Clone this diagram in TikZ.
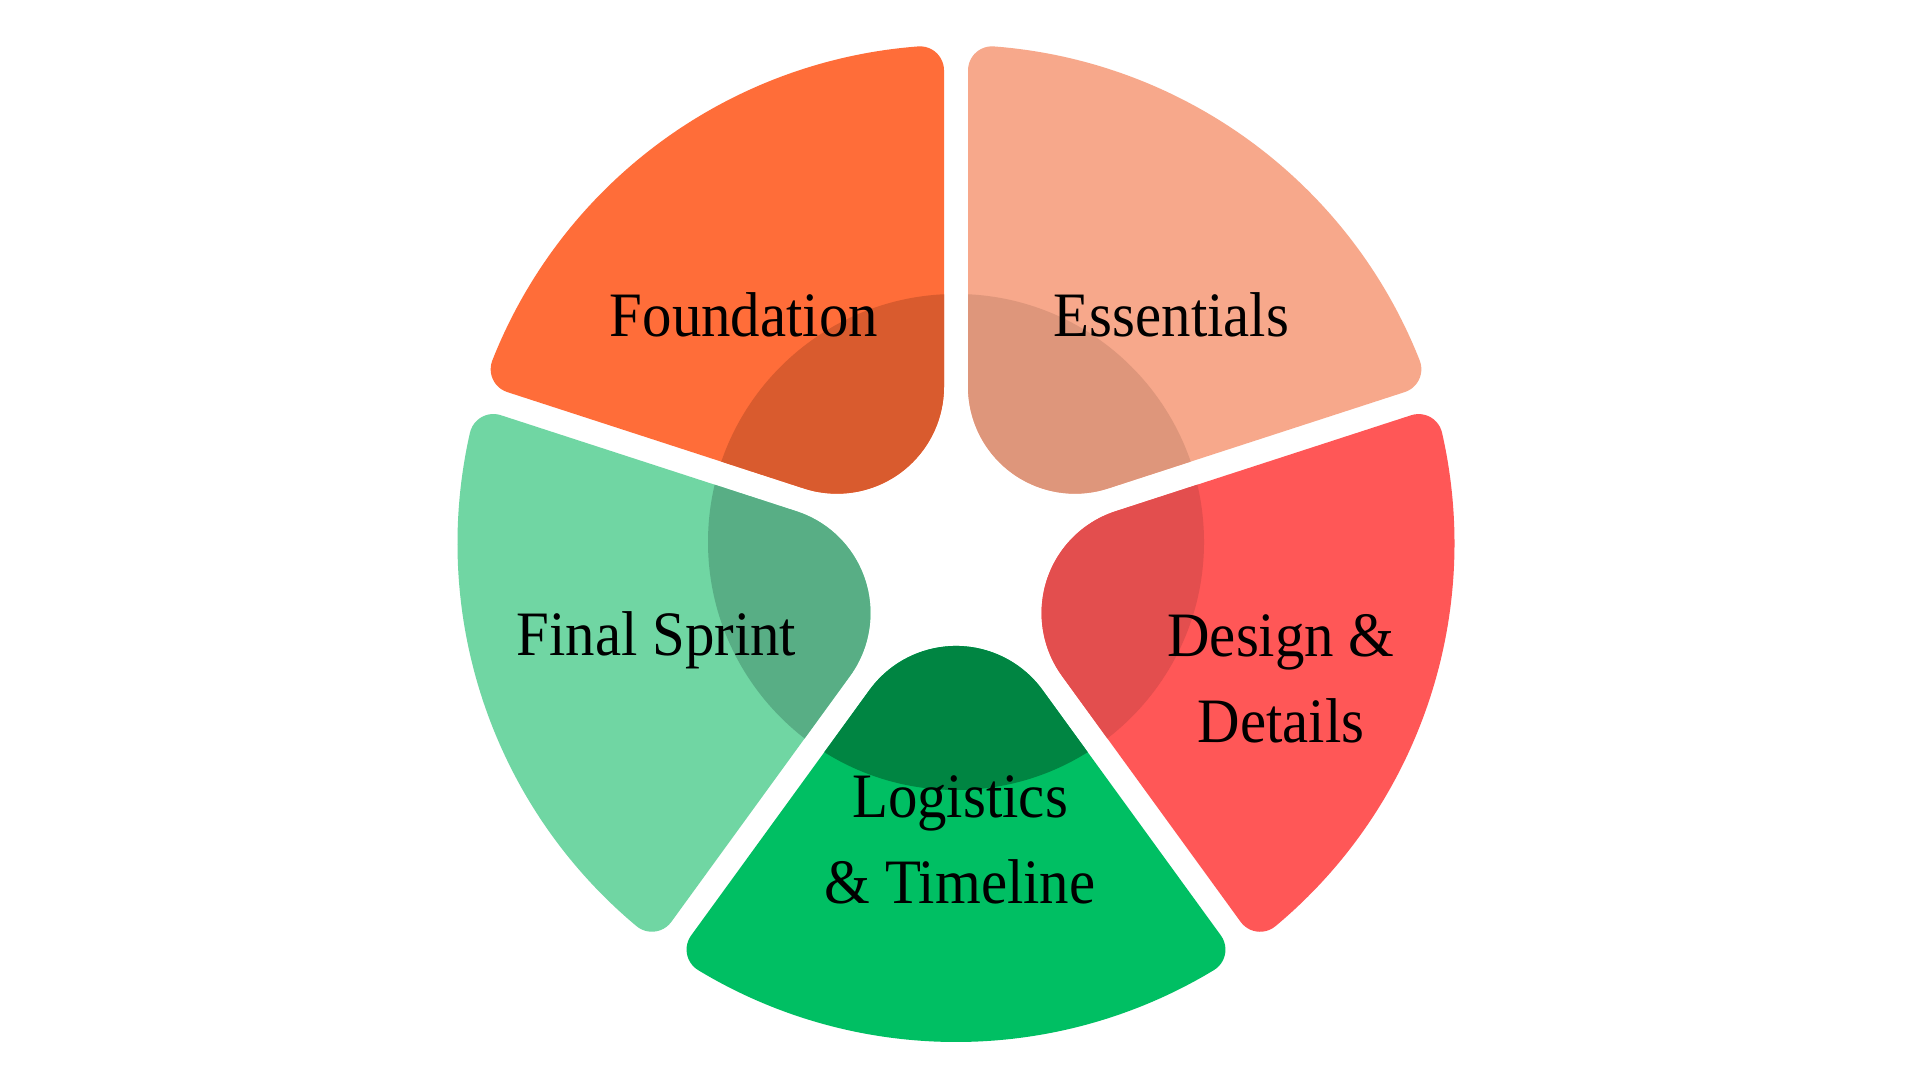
\documentclass[tikz,border=0pt]{standalone}
\usepackage{fontspec}
\usetikzlibrary{calc}
\newfontfamily\lblfont[FakeStretch=0.93]{Liberation Serif}
\definecolor{fndC}{HTML}{FF6D39}
\definecolor{fndD}{HTML}{D95B2E}
\definecolor{essC}{HTML}{F7A88B}
\definecolor{essD}{HTML}{DE967B}
\definecolor{desC}{HTML}{FF5757}
\definecolor{desD}{HTML}{E34E4E}
\definecolor{logC}{HTML}{00BF63}
\definecolor{logD}{HTML}{008542}
\definecolor{finC}{HTML}{70D6A3}
\definecolor{finD}{HTML}{58AE85}
% geometry (cm)
\def\segR{4.985}   % outer arc radius (centre O)
\def\segW{0.07}    % O lies this far above P
\def\segG{0.12}    % half gap
\def\segRho{0.24}  % outer corner radius
\def\segTr{1.07}   % inner tip radius
\def\segDc{1.6379} % distance along edge to inner tip tangency
\newcommand\segpath{%
 ($(P)+(\aA:\segDc)+(\aA+90:\segG)$) -- ($(P)+(\aA:\tA)+(\aA+90:\segG)$)
 arc[start angle=\aA-90, end angle=\thA, radius=\segRho]
 arc[start angle=\thA, end angle=\thB, radius=\segR]
 arc[start angle=\thB, end angle=\aB+90, radius=\segRho]
 -- ($(P)+(\aB:\segDc)+(\aB-90:\segG)$)
 arc[start angle=\aB+90, end angle=\aA+270, radius=\segTr] -- cycle}
\newcommand\segment[3]{%
 \pgfmathsetmacro\aA{#1}%
 \pgfmathsetmacro\aB{#1+72}%
 \pgfmathsetmacro\wuA{0-\segW*sin(\aA)}%
 \pgfmathsetmacro\wnA{0-\segW*cos(\aA)}%
 \pgfmathsetmacro\tA{0-(\wuA)+sqrt((\segR-\segRho)^2-(\segG+\segRho+(\wnA))^2)}%
 \pgfmathsetmacro\thA{\aA+atan2(\segG+\segRho+(\wnA),\tA+(\wuA))}%
 \pgfmathsetmacro\wuB{0-\segW*sin(\aB)}%
 \pgfmathsetmacro\wmB{\segW*cos(\aB)}%
 \pgfmathsetmacro\tB{0-(\wuB)+sqrt((\segR-\segRho)^2-(\segG+\segRho+(\wmB))^2)}%
 \pgfmathsetmacro\thB{\aB-atan2(\segG+\segRho+(\wmB),\tB+(\wuB))}%
 \fill[#2] \segpath;
 \begin{scope}
 \clip \segpath;
 \fill[#3] (K) circle[radius=2.48];
 \end{scope}}
\tikzset{lbl/.style={text=black, font=\lblfont\fontsize{18pt}{24.5pt}\selectfont, inner sep=0pt}}
\begin{document}
\begin{tikzpicture}
\useasboundingbox (0,0) rectangle (19.2,10.8);
\fill[white] (0,0) rectangle (19.2,10.8);
\coordinate (P) at (9.56,5.295);
\coordinate (K) at (9.56,5.38);
\segment{18}{essC}{essD}
\segment{90}{fndC}{fndD}
\segment{162}{finC}{finD}
\segment{234}{logC}{logD}
\segment{306}{desC}{desD}
\node[lbl, anchor=base] (fnd) at (7.44,7.43) {Foundation};
\node[lbl, anchor=base] (ess) at (11.715,7.43) {Essentials};
\node[lbl, anchor=base] (fin) at (6.565,4.24) {Final Sprint};
\node[lbl, align=center] (des) at (12.81,4.015) {Design \&\\Details};
\node[lbl, align=center] (log) at (9.60,2.405) {Logistics\\\& Timeline};
\end{tikzpicture}
\end{document}
